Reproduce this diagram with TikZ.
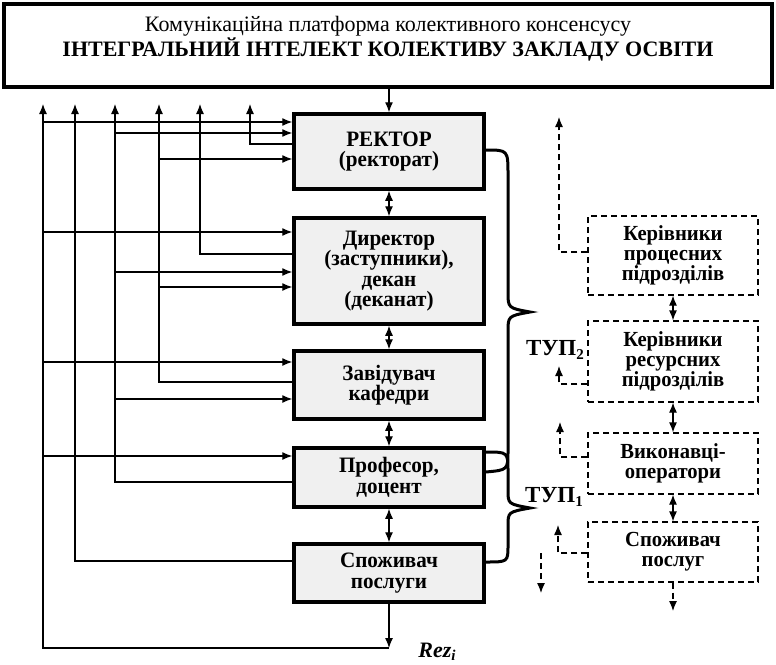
\documentclass[tikz,border=0pt]{standalone}
\usepackage{fontspec}
\setmainfont{Liberation Serif}
\newfontfamily\narrowserif[FakeStretch=0.96]{Liberation Serif}
\usepackage{xcolor}
\definecolor{BoxFill}{gray}{0.94}
\usetikzlibrary{arrows.meta}

\begin{document}
\begin{tikzpicture}[x=1pt, y=-1pt, >={Latex[length=10pt,width=8pt]},
  every node/.style={align=center, inner sep=0pt},
  mainbox/.style={draw, line width=3.5pt, fill=BoxFill, minimum width=190pt, font=\narrowserif\bfseries\fontsize{22}{20.5}\selectfont},
  dashbox/.style={draw, line width=1.2pt, dash pattern=on 6pt off 4pt, minimum width=170pt, font=\narrowserif\bfseries\fontsize{21.5}{20}\selectfont},
  link/.style={line width=1.2pt},
  dlink/.style={line width=1.2pt, dash pattern=on 6pt off 4pt},
  brace/.style={line width=3pt}]
  \useasboundingbox (0,0) rectangle (776,664);

  % platform on top
  \node[draw, line width=4pt, minimum width=768pt, minimum height=83pt] (platform) at (388,45.5) {};
  \node[anchor=base, font=\fontsize{22}{22}\selectfont] (platformtitle) at (388,31) {Комунікаційна платформа колективного консенсусу};
  \node[anchor=base, font=\bfseries\fontsize{22}{22}\selectfont] (platformname) at (388,56) {ІНТЕГРАЛЬНИЙ ІНТЕЛЕКТ КОЛЕКТИВУ ЗАКЛАДУ ОСВІТИ};

  % management levels
  \node[mainbox, minimum height=75pt] (rector) at (389,151.5) {РЕКТОР\\(ректорат)};
  \node[mainbox, minimum height=106pt] (director) at (389,271) {Директор\\(заступники),\\декан\\(деканат)};
  \node[mainbox, minimum height=68pt] (zav) at (389,385) {Завідувач\\кафедри};
  \node[mainbox, minimum height=59pt] (prof) at (389,477.5) {Професор,\\доцент};
  \node[mainbox, minimum height=58pt] (spoz) at (389,573) {Споживач\\послуги};

  % process side
  \node[dashbox, minimum height=79pt] (kp) at (673,255.5) {Керівники\\процесних\\підрозділів};
  \node[dashbox, minimum height=81pt] (kr) at (673,361.5) {Керівники\\ресурсних\\підрозділів};
  \node[dashbox, minimum height=61pt] (vo) at (673,463.5) {Виконавці-\\оператори};
  \node[dashbox, minimum height=60pt] (sp) at (673,552) {Споживач\\послуг};

  \node[font=\bfseries\fontsize{23}{23}\selectfont] (tup2) at (555,350) {ТУП\raisebox{-0.35ex}{\fontsize{15}{15}\selectfont 2}};
  \node[font=\bfseries\fontsize{23}{23}\selectfont] (tup1) at (554,497) {ТУП\raisebox{-0.35ex}{\fontsize{15}{15}\selectfont 1}};
  \node[font=\bfseries\itshape\fontsize{22}{22}\selectfont] (rezlabel) at (437,652) {Rez\raisebox{-0.35ex}{\fontsize{15}{15}\selectfont i}};

  \coordinate (up1) at (43,104);
  \coordinate (up2) at (75,104);
  \coordinate (up3) at (115,104);
  \coordinate (up4) at (159,104);
  \coordinate (up5) at (200,104);
  \coordinate (up6) at (250,104);
  \coordinate (rez) at (389,648);

  \draw[link,->] (platform.south -| rector) -- (rector);
  \draw[link,<->] (rector) -- (director);
  \draw[link,<->] (director) -- (zav);
  \draw[link,<->] (zav) -- (prof);
  \draw[link,<->] (prof) -- (spoz);
  \draw[link,->] (spoz) -- (rez);
  \draw[link,->] (rez) -| (up1);

  % feedback lines
  \foreach \y/\n in {122/rector, 232/director, 362/zav, 456/prof}
    \draw[link,->] (up1 |- 0,\y) -- (\n.west |- 0,\y);
  \draw[link,->] (spoz.west |- 0,561) -| (up2);
  \draw[link,->] (prof.west |- 0,482) -| (up3);
  \foreach \y/\n in {133/rector, 272/director, 399/zav}
    \draw[link,->] (up3 |- 0,\y) -- (\n.west |- 0,\y);
  \draw[link,->] (zav.west |- 0,382) -| (up4);
  \foreach \y/\n in {159/rector, 287/director}
    \draw[link,->] (up4 |- 0,\y) -- (\n.west |- 0,\y);
  \draw[link,->] (director.west |- 0,254) -| (up5);
  \draw[link,->] (rector.west |- 0,144) -| (up6);

  % braces
  \draw[brace] (rector.east |- 0,150) .. controls (508,150) .. (508,175) -- (508,292)
    .. controls (508,308) .. (530,312) .. controls (508,316) .. (508,332) -- (508,450)
    .. controls (508,470) .. (prof.east |- 0,472);
  \draw[brace] (prof.east |- 0,452) .. controls (508,452) .. (508,472) -- (508,490)
    .. controls (508,504) .. (530,508) .. controls (508,512) .. (508,526) -- (508,545)
    .. controls (508,562) .. (spoz.east |- 0,562);

  % dashed side
  \coordinate (fbkp) at (559,117);
  \coordinate (fbkr) at (559,366);
  \coordinate (fbvo) at (560,422);
  \coordinate (fbsp) at (558,525);
  \coordinate (dnfrom) at (541,553);
  \coordinate (dnto) at (541,593);
  \coordinate (spout) at (673,611);

  \draw[link,<->] (kp) -- (kr);
  \draw[link,<->] (kr) -- (vo);
  \draw[link,<->] (vo) -- (sp);
  \draw[dlink,->] (sp) -- (spout);
  \draw[dlink,->] (kp.west |- 0,252) -| (fbkp);
  \draw[dlink,->] (kr.west |- 0,384) -| (fbkr);
  \draw[dlink,->] (vo.west |- 0,457) -| (fbvo);
  \draw[dlink,->] (sp.west |- 0,553) -| (fbsp);
  \draw[dlink,->] (dnfrom) -- (dnto);
\end{tikzpicture}
\end{document}
